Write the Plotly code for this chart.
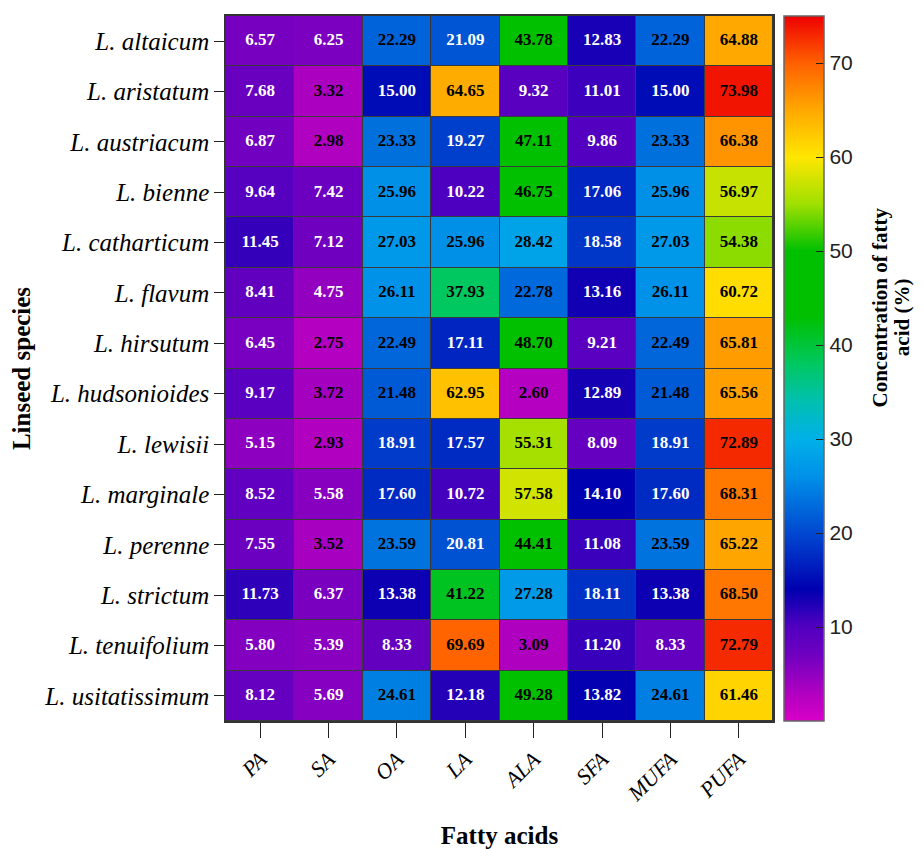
import plotly.graph_objects as go

species = ["L. altaicum", "L. aristatum", "L. austriacum", "L. bienne", "L. catharticum",
           "L. flavum", "L. hirsutum", "L. hudsonioides", "L. lewisii", "L. marginale",
           "L. perenne", "L. strictum", "L. tenuifolium", "L. usitatissimum"]
acids = ["PA", "SA", "OA", "LA", "ALA", "SFA", "MUFA", "PUFA"]

PA   = [6.57, 7.68, 6.87, 9.64, 11.45, 8.41, 6.45, 9.17, 5.15, 8.52, 7.55, 11.73, 5.80, 8.12]
SA   = [6.25, 3.32, 2.98, 7.42, 7.12, 4.75, 2.75, 3.72, 2.93, 5.58, 3.52, 6.37, 5.39, 5.69]
OA   = [22.29, 15.00, 23.33, 25.96, 27.03, 26.11, 22.49, 21.48, 18.91, 17.60, 23.59, 13.38, 8.33, 24.61]
LA   = [21.09, 64.65, 19.27, 10.22, 25.96, 37.93, 17.11, 62.95, 17.57, 10.72, 20.81, 41.22, 69.69, 12.18]
ALA  = [43.78, 9.32, 47.11, 46.75, 28.42, 22.78, 48.70, 2.60, 55.31, 57.58, 44.41, 27.28, 3.09, 49.28]
SFA  = [12.83, 11.01, 9.86, 17.06, 18.58, 13.16, 9.21, 12.89, 8.09, 14.10, 11.08, 18.11, 11.20, 13.82]
MUFA = [22.29, 15.00, 23.33, 25.96, 27.03, 26.11, 22.49, 21.48, 18.91, 17.60, 23.59, 13.38, 8.33, 24.61]
PUFA = [64.88, 73.98, 66.38, 56.97, 54.38, 60.72, 65.81, 65.56, 72.89, 68.31, 65.22, 68.50, 72.79, 61.46]

cb_ticks = [10, 20, 30, 40, 50, 60, 70]
cb_title_lines = ["Concentration of fatty", "acid (%)"]

columns = [PA, SA, OA, LA, ALA, SFA, MUFA, PUFA]
z = [[col[i] for col in columns] for i in range(len(species))]

zmax = 75.0
stops = [(0, "#d800c8"), (3, "#b000c0"), (7, "#7000c0"), (10, "#5200c0"), (12, "#2800b8"),
         (14, "#0000b0"), (20, "#0048d0"), (26, "#0090e8"), (30, "#00b0e8"), (34, "#00c0b0"),
         (38, "#00c860"), (43, "#00c000"), (50, "#00c000"), (55, "#a0e000"), (60, "#ffe600"),
         (65, "#ffa800"), (70, "#ff6000"), (75, "#ee0000")]
colorscale = [[v / zmax, c] for v, c in stops]

SERIF = "Liberation Serif, Times New Roman, serif"

fig = go.Figure()
fig.add_trace(go.Heatmap(
    z=z, x=acids, y=species, zmin=0, zmax=zmax, colorscale=colorscale,
    xgap=1, ygap=1, hoverinfo="skip",
    colorbar=dict(
        x=1.02, xanchor="left", xref="paper", xpad=0, ypad=0,
        y=0.5, yanchor="middle", len=1.0, lenmode="fraction",
        thickness=40, outlinecolor="#666666", outlinewidth=1.5,
        tickvals=cb_ticks, ticks="inside", ticklen=8, tickcolor="#222",
        tickfont=dict(family="Liberation Sans, Arial", size=21, color="#222"),
    ),
))

xs, ys, txt, cols = [], [], [], []
for i, sp in enumerate(species):
    for j, ac in enumerate(acids):
        v = z[i][j]
        xs.append(ac); ys.append(sp)
        txt.append(f"<b>{v:.2f}</b>")
        cols.append("white" if 4.0 <= v < 21.3 else "black")

fig.add_trace(go.Scatter(
    x=xs, y=ys, text=txt, mode="text", hoverinfo="skip", showlegend=False,
    textfont=dict(family=SERIF, size=17, color=cols),
))

for line, xp, yp in zip(cb_title_lines, [1.195, 1.236], [0.586, 0.573]):
    fig.add_annotation(
        text=f"<b>{line}</b>", textangle=-90,
        xref="paper", yref="paper", x=xp, y=yp, xanchor="center", yanchor="middle",
        showarrow=False, font=dict(family=SERIF, size=21, color="black"),
    )

fig.update_layout(
    width=916, height=841,
    margin=dict(l=218, r=151, t=8, b=128, autoexpand=False),
    paper_bgcolor="white", plot_bgcolor="#3a3a3a",
    showlegend=False,
    xaxis=dict(
        type="category", range=[-0.5, len(acids) - 0.5], tickangle=-45,
        ticks="outside", ticklen=15, tickcolor="#222",
        tickfont=dict(family=SERIF, size=22, color="black", style="italic"),
        showline=True, linecolor="#333", linewidth=1.5, mirror=True, showgrid=False, zeroline=False,
        title=dict(text="<b>Fatty acids</b>", standoff=22,
                   font=dict(family=SERIF, size=25, color="black")),
    ),
    yaxis=dict(
        type="category", range=[len(species) - 0.5, -0.5],
        ticks="outside", ticklen=10, tickcolor="#222",
        tickfont=dict(family=SERIF, size=25, color="black", style="italic"),
        showline=True, linecolor="#333", linewidth=1.5, mirror=True, showgrid=False, zeroline=False,
        title=dict(text="<b>Linseed species</b>", standoff=8,
                   font=dict(family=SERIF, size=25, color="black")),
    ),
)

fig.write_html("out.html")
